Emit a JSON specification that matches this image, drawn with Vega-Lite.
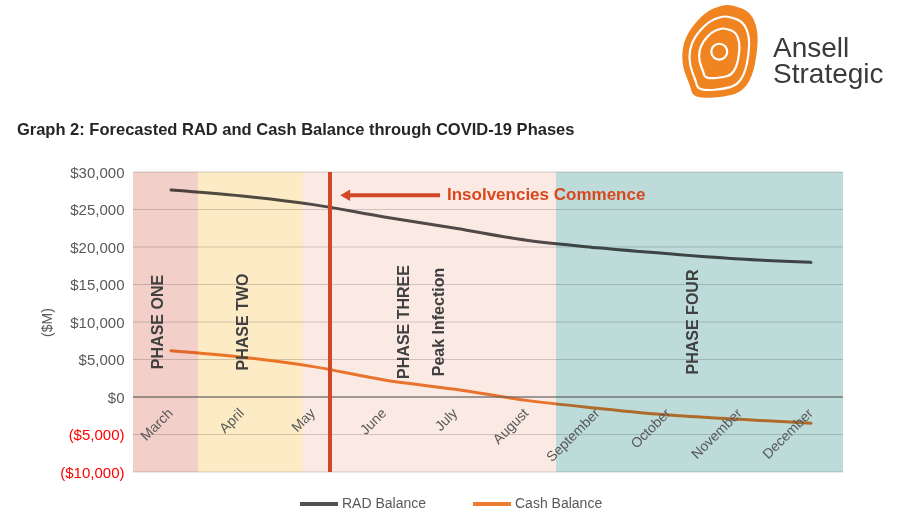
{
  "$schema": "https://vega.github.io/schema/vega-lite/v6.json",
  "width": 710,
  "height": 300,
  "autosize": {"type": "none"},
  "padding": {"left": 133, "top": 172, "right": 57, "bottom": 44},
  "background": "white",
  "config": {"font": "Liberation Sans", "view": {"stroke": null}},
  "data": {"values": [{"one": 1}]},
  "datasets": {
    "series": [
      {"month": "March", "idx": 0, "series": "RAD Balance", "value": 27600},
      {"month": "April", "idx": 1, "series": "RAD Balance", "value": 26800},
      {"month": "May", "idx": 2, "series": "RAD Balance", "value": 25650},
      {"month": "June", "idx": 3, "series": "RAD Balance", "value": 24000},
      {"month": "July", "idx": 4, "series": "RAD Balance", "value": 22500},
      {"month": "August", "idx": 5, "series": "RAD Balance", "value": 20900},
      {"month": "September", "idx": 6, "series": "RAD Balance", "value": 19900},
      {"month": "October", "idx": 7, "series": "RAD Balance", "value": 19100},
      {"month": "November", "idx": 8, "series": "RAD Balance", "value": 18400},
      {"month": "December", "idx": 9, "series": "RAD Balance", "value": 17950},
      {"month": "March", "idx": 0, "series": "Cash Balance", "value": 6170},
      {"month": "April", "idx": 1, "series": "Cash Balance", "value": 5300},
      {"month": "May", "idx": 2, "series": "Cash Balance", "value": 4050},
      {"month": "June", "idx": 3, "series": "Cash Balance", "value": 2270},
      {"month": "July", "idx": 4, "series": "Cash Balance", "value": 1020},
      {"month": "August", "idx": 5, "series": "Cash Balance", "value": -450},
      {"month": "September", "idx": 6, "series": "Cash Balance", "value": -1500},
      {"month": "October", "idx": 7, "series": "Cash Balance", "value": -2400},
      {"month": "November", "idx": 8, "series": "Cash Balance", "value": -2970},
      {"month": "December", "idx": 9, "series": "Cash Balance", "value": -3500}
    ],
    "phases": [
      {"phase": "Phase One", "start": -0.534, "end": 0.38},
      {"phase": "Phase Two", "start": 0.38, "end": 1.856},
      {"phase": "Phase Three", "start": 1.856, "end": 5.414},
      {"phase": "Phase Four", "start": 5.414, "end": 9.45}
    ],
    "labels": [
      {"label": "PHASE ONE", "pos": -0.18},
      {"label": "PHASE TWO", "pos": 1.01},
      {"label": "PHASE THREE", "pos": 3.28},
      {"label": "Peak Infection", "pos": 3.77},
      {"label": "PHASE FOUR", "pos": 7.34}
    ],
    "gridvals": [
      {"v": -10000}, {"v": -5000}, {"v": 0}, {"v": 5000}, {"v": 10000},
      {"v": 15000}, {"v": 20000}, {"v": 25000}, {"v": 30000}
    ]
  },
  "resolve": {"axis": {"y": "independent"}},
  "layer": [
    {
      "data": {"name": "gridvals"},
      "mark": {"type": "rule", "color": "#d4d4d4", "strokeWidth": 1},
      "encoding": {
        "y": {
          "field": "v",
          "type": "quantitative",
          "scale": {"domain": [-10000, 30000], "nice": false},
          "axis": {
            "orient": "left",
            "title": "($M)",
            "titleFontSize": 14,
            "titleFontWeight": "normal",
            "titleColor": "#595959",
            "titlePadding": 5,
            "values": [-10000, -5000, 0, 5000, 10000, 15000, 20000, 25000, 30000],
            "format": "($,.0f",
            "labelColor": {"condition": {"test": "datum.value < 0", "value": "#ff0000"}, "value": "#595959"},
            "labelFontSize": 15,
            "labelPadding": 9,
            "domain": false,
            "ticks": false,
            "grid": false
          }
        }
      }
    },
    {
      "data": {"name": "series"},
      "mark": {"type": "line", "interpolate": "monotone", "strokeWidth": 3, "strokeCap": "round"},
      "encoding": {
        "x": {"field": "idx", "type": "quantitative", "scale": {"domain": [-0.534, 9.45], "nice": false, "zero": false}, "axis": null},
        "y": {"field": "value", "type": "quantitative", "axis": null},
        "stroke": {
          "field": "series",
          "type": "nominal",
          "scale": {"domain": ["RAD Balance", "Cash Balance"], "range": ["#505050", "#ed7d31"]},
          "legend": {
            "orient": "none",
            "legendX": 165,
            "legendY": 311,
            "direction": "horizontal",
            "title": null,
            "symbolType": "stroke",
            "symbolSize": 1444,
            "symbolStrokeWidth": 4,
            "labelFontSize": 14,
            "labelColor": "#595959",
            "columnPadding": 38,
            "labelOffset": 2
          }
        }
      }
    },
    {
      "data": {"name": "phases"},
      "mark": {"type": "rect", "blend": "multiply"},
      "encoding": {
        "x": {"field": "start", "type": "quantitative", "axis": null},
        "x2": {"field": "end"},
        "fill": {
          "field": "phase",
          "type": "nominal",
          "scale": {"domain": ["Phase One", "Phase Two", "Phase Three", "Phase Four"], "range": ["#f2cfc8", "#fdebc6", "#fbeae4", "#bddbd9"]},
          "legend": null
        }
      }
    },
    {
      "mark": {"type": "rule", "color": "#595959", "strokeWidth": 1.2},
      "encoding": {"y": {"datum": 0, "type": "quantitative", "axis": null}}
    },
    {
      "mark": {"type": "rule", "color": "#d24726", "strokeWidth": 4},
      "encoding": {"x": {"datum": 2.236, "type": "quantitative", "axis": null}}
    },
    {
      "mark": {"type": "rule", "color": "#d24726", "strokeWidth": 4},
      "encoding": {
        "x": {"datum": 2.517, "type": "quantitative", "axis": null},
        "x2": {"datum": 3.783},
        "y": {"datum": 26900, "type": "quantitative", "axis": null}
      }
    },
    {
      "mark": {"type": "point", "shape": "triangle-left", "filled": true, "color": "#d24726", "size": 130, "opacity": 1},
      "encoding": {
        "x": {"datum": 2.45, "type": "quantitative", "axis": null},
        "y": {"datum": 26900, "type": "quantitative", "axis": null}
      }
    },
    {
      "mark": {"type": "text", "text": "Insolvencies Commence", "align": "left", "baseline": "middle", "fontSize": 17, "fontWeight": "bold", "color": "#d9471e"},
      "encoding": {
        "x": {"datum": 3.881, "type": "quantitative", "axis": null},
        "y": {"datum": 26900, "type": "quantitative", "axis": null}
      }
    },
    {
      "data": {"name": "labels"},
      "mark": {"type": "text", "angle": 270, "align": "center", "baseline": "middle", "fontSize": 16, "fontWeight": "bold", "color": "#404040"},
      "encoding": {
        "x": {"field": "pos", "type": "quantitative", "axis": null},
        "y": {"datum": 10000, "type": "quantitative", "axis": null},
        "text": {"field": "label"}
      }
    },
    {
      "data": {"name": "series"},
      "transform": [{"filter": "datum.series === 'RAD Balance'"}],
      "mark": {"type": "text", "angle": 315, "align": "right", "baseline": "middle", "fontSize": 14, "color": "#595959"},
      "encoding": {
        "x": {"field": "idx", "type": "quantitative", "axis": null},
        "y": {"datum": -1900, "type": "quantitative", "axis": null},
        "text": {"field": "month"}
      }
    },
    {
      "mark": {"type": "text", "text": "Graph 2: Forecasted RAD and Cash Balance through COVID-19 Phases", "align": "left", "baseline": "middle", "fontSize": 16.5, "fontWeight": "bold", "color": "#262626"},
      "encoding": {
        "x": {"datum": -2.166, "type": "quantitative", "axis": null},
        "y": {"datum": 35600, "type": "quantitative", "axis": null}
      }
    },
    {
      "mark": {"type": "point", "shape": "M0.45,-0.91 Q0.64,-0.84 0.72,-0.645 Q0.80,-0.45 0.79,-0.21 Q0.78,0.03 0.73,0.275 Q0.68,0.52 0.575,0.68 Q0.47,0.84 0.295,0.89 Q0.12,0.94 -0.125,0.96 Q-0.37,0.98 -0.475,0.945 Q-0.58,0.91 -0.60,0.82 Q-0.62,0.73 -0.705,0.52 Q-0.79,0.31 -0.79,0.105 Q-0.79,-0.10 -0.72,-0.275 Q-0.65,-0.45 -0.475,-0.645 Q-0.30,-0.84 -0.125,-0.91 Q0.05,-0.98 0.155,-0.98 Q0.26,-0.98 0.45,-0.91 Z", "filled": true, "fill": "#ef8421", "strokeWidth": 0, "size": 9090, "opacity": 1},
      "encoding": {
        "x": {"datum": 7.72, "type": "quantitative", "axis": null},
        "y": {"datum": 46040, "type": "quantitative", "axis": null}
      }
    },
    {
      "mark": {"type": "point", "shape": "M0.45,-0.91 Q0.64,-0.84 0.72,-0.645 Q0.80,-0.45 0.79,-0.21 Q0.78,0.03 0.73,0.275 Q0.68,0.52 0.575,0.68 Q0.47,0.84 0.295,0.89 Q0.12,0.94 -0.125,0.96 Q-0.37,0.98 -0.475,0.945 Q-0.58,0.91 -0.60,0.82 Q-0.62,0.73 -0.705,0.52 Q-0.79,0.31 -0.79,0.105 Q-0.79,-0.10 -0.72,-0.275 Q-0.65,-0.45 -0.475,-0.645 Q-0.30,-0.84 -0.125,-0.91 Q0.05,-0.98 0.155,-0.98 Q0.26,-0.98 0.45,-0.91 Z", "filled": false, "stroke": "white", "strokeWidth": 2.2, "size": 5700, "opacity": 1},
      "encoding": {
        "x": {"datum": 7.71, "type": "quantitative", "axis": null},
        "y": {"datum": 45800, "type": "quantitative", "axis": null}
      }
    },
    {
      "mark": {"type": "point", "shape": "M0.45,-0.91 Q0.64,-0.84 0.72,-0.645 Q0.80,-0.45 0.79,-0.21 Q0.78,0.03 0.73,0.275 Q0.68,0.52 0.575,0.68 Q0.47,0.84 0.295,0.89 Q0.12,0.94 -0.125,0.96 Q-0.37,0.98 -0.475,0.945 Q-0.58,0.91 -0.60,0.82 Q-0.62,0.73 -0.705,0.52 Q-0.79,0.31 -0.79,0.105 Q-0.79,-0.10 -0.72,-0.275 Q-0.65,-0.45 -0.475,-0.645 Q-0.30,-0.84 -0.125,-0.91 Q0.05,-0.98 0.155,-0.98 Q0.26,-0.98 0.45,-0.91 Z", "filled": false, "stroke": "white", "strokeWidth": 2.2, "size": 2600, "opacity": 1},
      "encoding": {
        "x": {"datum": 7.71, "type": "quantitative", "axis": null},
        "y": {"datum": 45800, "type": "quantitative", "axis": null}
      }
    },
    {
      "mark": {"type": "point", "shape": "circle", "filled": false, "stroke": "white", "strokeWidth": 2.2, "size": 254, "opacity": 1},
      "encoding": {
        "x": {"datum": 7.71, "type": "quantitative", "axis": null},
        "y": {"datum": 46040, "type": "quantitative", "axis": null}
      }
    },
    {
      "mark": {"type": "text", "text": "Ansell", "align": "left", "baseline": "alphabetic", "fontSize": 28, "color": "#3a3a3a"},
      "encoding": {
        "x": {"datum": 8.466, "type": "quantitative", "axis": null},
        "y": {"datum": 45370, "type": "quantitative", "axis": null}
      }
    },
    {
      "mark": {"type": "text", "text": "Strategic", "align": "left", "baseline": "alphabetic", "fontSize": 28, "color": "#3a3a3a"},
      "encoding": {
        "x": {"datum": 8.466, "type": "quantitative", "axis": null},
        "y": {"datum": 41830, "type": "quantitative", "axis": null}
      }
    }
  ]
}
